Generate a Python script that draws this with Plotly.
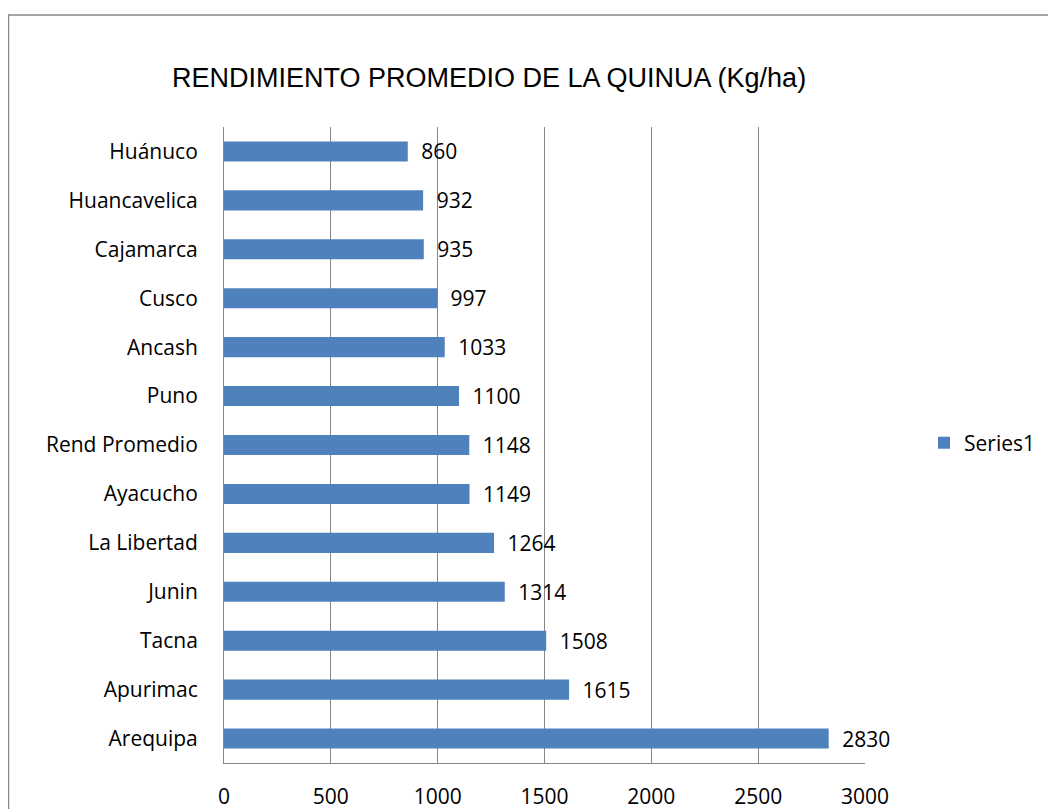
import plotly.graph_objects as go

categories = ["Arequipa", "Apurimac", "Tacna", "Junin", "La Libertad", "Ayacucho",
              "Rend Promedio", "Puno", "Ancash", "Cusco", "Cajamarca", "Huancavelica", "Huánuco"]
values = [2830, 1615, 1508, 1314, 1264, 1149, 1148, 1100, 1033, 997, 935, 932, 860]
x_ticks = [0, 500, 1000, 1500, 2000, 2500, 3000]

OFF = 8  # page offset of the plot div
W, H = 1056 - OFF, 809 - OFF
# target pixel positions in the screenshot
PL, PR, PT, PB = 224, 865, 127, 763
L, T = PL - OFF, PT - OFF
R = W - (PR - OFF)
B = H - (PB - OFF)
pw, ph = W - L - R, H - T - B

def px_x(p):
    return (p - OFF - L) / pw

def px_y(p):
    return (H - B - (p - OFF)) / ph

FONT = "Open Sans, sans-serif"
FS = 21

fig = go.Figure(go.Bar(
    x=values, y=categories, orientation="h", name="Series1",
    marker=dict(color="#4F81BD", line=dict(width=0)),
    text=[str(v) for v in values], texttemplate="\u2002%{text}",
    textposition="outside", constraintext="none",
    textfont=dict(family=FONT, size=FS, color="black"),
    cliponaxis=False,
))

fig.update_layout(
    width=W, height=H,
    margin=dict(l=L, r=R, t=T, b=B, autoexpand=False),
    paper_bgcolor="white", plot_bgcolor="white",
    bargap=0.59,
    showlegend=True,
    legend=dict(x=px_x(924), y=px_y(443), xanchor="left", yanchor="middle",
                font=dict(family=FONT, size=FS, color="black"),
                itemwidth=30, bgcolor="rgba(0,0,0,0)"),
    xaxis=dict(range=[0, 3000], tickvals=x_ticks, showgrid=True, gridcolor="#868686",
               gridwidth=1, showline=True, linecolor="#868686", mirror=False,
               zeroline=False, ticks="", ticklabelstandoff=15,
               tickfont=dict(family=FONT, size=FS, color="black")),
    yaxis=dict(range=[-0.5, 12.5], categoryorder="array", categoryarray=categories,
               showgrid=False, showline=True, linecolor="#868686", ticks="",
               ticklabelstandoff=21,
               tickfont=dict(family=FONT, size=FS, color="black")),
    font=dict(family=FONT),
)

fig.add_annotation(
    text="RENDIMIENTO PROMEDIO DE LA QUINUA (Kg/ha)",
    x=px_x(489), y=px_y(78), xref="paper", yref="paper",
    xanchor="center", yanchor="middle", showarrow=False,
    font=dict(family="Liberation Sans Narrow, Arial Narrow, Liberation Sans, sans-serif",
              size=27, color="black"),
)

fig.add_shape(type="rect", xref="paper", yref="paper",
              x0=px_x(8.5), x1=px_x(1054), y0=px_y(830), y1=px_y(15),
              line=dict(color="#868686", width=1.5), fillcolor="rgba(0,0,0,0)", layer="below")

fig.write_html("out.html")
